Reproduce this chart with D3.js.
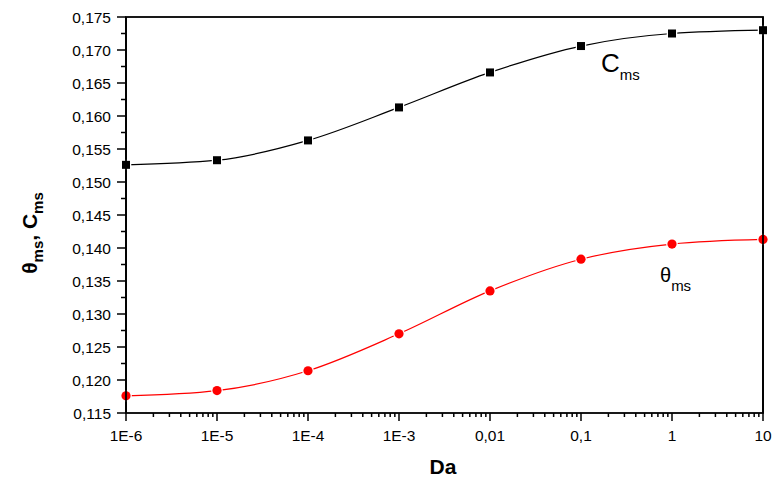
<!DOCTYPE html>
<html>
<head>
<meta charset="utf-8">
<script src="https://cdn.jsdelivr.net/npm/d3@7"></script>
<style>
  body { margin: 0; background: #fff; }
  svg { display: block; font-family: "Liberation Sans", Arial, sans-serif; }
</style>
</head>
<body>
<svg width="777" height="482"></svg>
<script>
// Da values (log axis)
const da = [1e-6, 1e-5, 1e-4, 1e-3, 1e-2, 1e-1, 1, 10];
const daLabels = ["1E-6", "1E-5", "1E-4", "1E-3", "0,01", "0,1", "1", "10"];
// C_ms, black squares
const cms = [0.1526, 0.1533, 0.1563, 0.1613, 0.1666, 0.1706, 0.1725, 0.1730];
// theta_ms, red circles
const thetams = [0.1176, 0.1184, 0.1214, 0.1270, 0.1335, 0.1383, 0.1406, 0.1413];
const yTicks = [0.115, 0.120, 0.125, 0.130, 0.135, 0.140, 0.145, 0.150, 0.155, 0.160, 0.165, 0.170, 0.175];

const svg = d3.select("svg");
const pLeft = 126, pRight = 763, pTop = 17, pBottom = 413;

const x = d3.scaleLog().domain([1e-6, 10]).range([pLeft, pRight]);
const y = d3.scaleLinear().domain([0.115, 0.175]).range([pBottom, pTop]);

const fmt = v => d3.format(".3f")(v).replace(".", ",");

// minor ticks
const yMinor = d3.range(0.1175, 0.175, 0.005);
svg.append("g").selectAll("line").data(yMinor).join("line")
    .attr("x1", pLeft - 5).attr("x2", pLeft)
    .attr("y1", d => y(d)).attr("y2", d => y(d))
    .attr("stroke", "#000").attr("stroke-width", 1.5);

const xMinor = [];
da.slice(0, -1).forEach(d => { for (let k = 2; k <= 9; k++) xMinor.push(d * k); });
svg.append("g").selectAll("line").data(xMinor).join("line")
    .attr("x1", d => x(d)).attr("x2", d => x(d))
    .attr("y1", pBottom).attr("y2", pBottom + 4)
    .attr("stroke", "#000").attr("stroke-width", 1.5);

// major ticks + labels
const yAxis = svg.append("g");
yAxis.selectAll("line").data(yTicks).join("line")
    .attr("x1", pLeft - 9).attr("x2", pLeft)
    .attr("y1", d => y(d)).attr("y2", d => y(d))
    .attr("stroke", "#000").attr("stroke-width", 1.5);
yAxis.selectAll("text").data(yTicks).join("text")
    .attr("x", pLeft - 15).attr("y", d => y(d) + 5.5)
    .attr("text-anchor", "end").style("font-size", "15.5px")
    .text(fmt);

const xAxis = svg.append("g");
xAxis.selectAll("line").data(da).join("line")
    .attr("x1", d => x(d)).attr("x2", d => x(d))
    .attr("y1", pBottom).attr("y2", pBottom + 8)
    .attr("stroke", "#000").attr("stroke-width", 1.5);
xAxis.selectAll("text").data(da).join("text")
    .attr("x", d => x(d)).attr("y", 441)
    .attr("text-anchor", "middle").style("font-size", "15.5px")
    .text((d, i) => daLabels[i]);

// frame
svg.append("rect")
    .attr("x", pLeft).attr("y", pTop)
    .attr("width", pRight - pLeft).attr("height", pBottom - pTop)
    .attr("fill", "none").attr("stroke", "#000").attr("stroke-width", 1.8);

// curves
const line = d3.line().x(d => x(d[0])).y(d => y(d[1])).curve(d3.curveMonotoneX);

svg.append("path").datum(da.map((d, i) => [d, cms[i]]))
    .attr("d", line).attr("fill", "none").attr("stroke", "#000").attr("stroke-width", 1.2);
svg.append("path").datum(da.map((d, i) => [d, thetams[i]]))
    .attr("d", line).attr("fill", "none").attr("stroke", "#f00").attr("stroke-width", 1.2);

svg.append("g").selectAll("rect").data(da).join("rect")
    .attr("x", d => x(d) - 4).attr("y", (d, i) => y(cms[i]) - 4)
    .attr("width", 8).attr("height", 8)
    .attr("fill", "#000").attr("stroke", "#fff").attr("stroke-width", 2.5)
    .style("paint-order", "stroke");

svg.append("g").selectAll("circle").data(da).join("circle")
    .attr("cx", d => x(d)).attr("cy", (d, i) => y(thetams[i]))
    .attr("r", 4.6)
    .attr("fill", "#f00").attr("stroke", "#fff").attr("stroke-width", 2.5)
    .style("paint-order", "stroke");

// redraw frame edges over the white marker halos
svg.append("line").attr("x1", pLeft).attr("x2", pLeft).attr("y1", pTop).attr("y2", pBottom)
    .attr("stroke", "#000").attr("stroke-width", 1.8);
svg.append("line").attr("x1", pRight).attr("x2", pRight).attr("y1", pTop).attr("y2", pBottom)
    .attr("stroke", "#000").attr("stroke-width", 1.8);

// series labels
const cl = svg.append("text").attr("x", 601).attr("y", 72).style("font-size", "26px");
cl.append("tspan").text("C");
cl.append("tspan").attr("dy", 8).style("font-size", "15px").text("ms");

const tl = svg.append("text").attr("x", 660).attr("y", 282).style("font-size", "20px");
tl.append("tspan").text("θ");
tl.append("tspan").attr("dy", 9).style("font-size", "15px").text("ms");

// axis titles
svg.append("text").attr("x", 443).attr("y", 474)
    .attr("text-anchor", "middle").style("font-size", "21px").style("font-weight", "bold")
    .text("Da");

const yt = svg.append("text")
    .attr("transform", "translate(37,233) rotate(-90)")
    .attr("text-anchor", "middle").style("font-size", "21px").style("font-weight", "bold");
yt.append("tspan").text("θ");
yt.append("tspan").attr("dy", 6).style("font-size", "15px").text("ms");
yt.append("tspan").attr("dy", -6).text(", C");
yt.append("tspan").attr("dy", 6).style("font-size", "15px").text("ms");
</script>
</body>
</html>
